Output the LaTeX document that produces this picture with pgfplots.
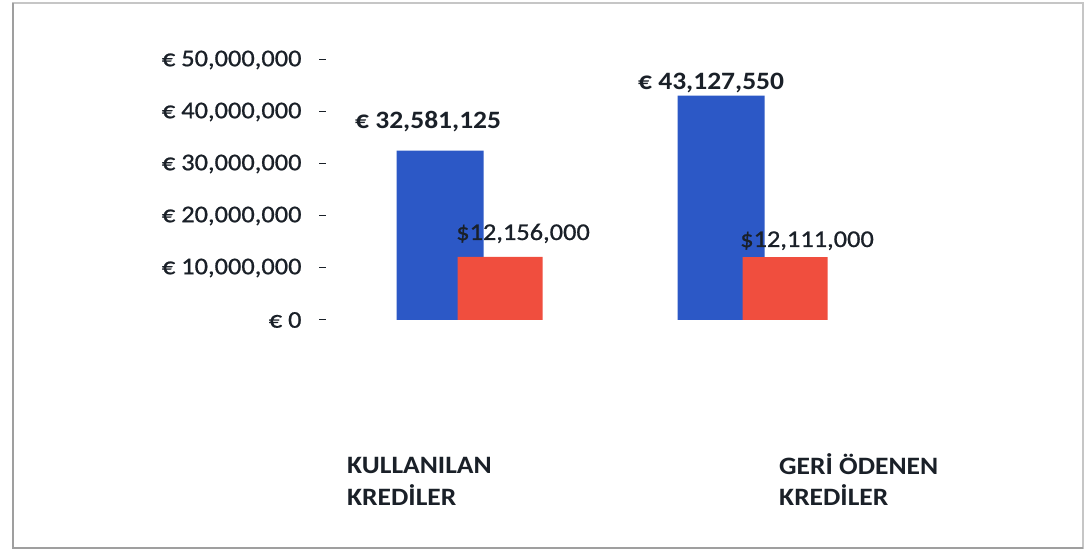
\documentclass[border=0pt]{standalone}
\usepackage{fontspec}
\setmainfont{Carlito}[FakeStretch=1.1]
\newfontfamily\medfont{Carlito}[FakeStretch=1.1, FakeBold=0.8]
\usepackage{pgfplots}
\pgfplotsset{compat=1.18}
\usepackage{pgfplotstable}
\definecolor{barblue}{RGB}{44,88,198}
\definecolor{barred}{RGB}{240,78,62}
\definecolor{txt}{RGB}{26,32,40}

\pgfplotstableread{
x y
440 32581125
721 43127550
}\bluedata
\pgfplotstableread{
x y
500 12156000
785 12111000
}\reddata

% pixel row p  ->  value (320-p)/5.2 million
\newcommand{\pv}[1]{\fpeval{(320-#1)/5.2*1000000}}

\begin{document}
\begin{tikzpicture}
\useasboundingbox (0,0) rectangle (1088bp,551bp);
\fill[white] (0,0) rectangle (1088bp,551bp);
\draw[gray!45, line width=1.2bp] (13bp,3bp) rectangle (1083bp,548bp);
\draw[gray!75, line width=1.6bp] (13bp,548bp) -- (13bp,3bp) -- (1083bp,3bp);
\begin{axis}[
  at={(326bp,0bp)}, anchor=south west,
  scale only axis, width=762bp, height=551bp,
  xmin=326, xmax=1088,
  ymin=-44423077, ymax=61538462,
  clip=false,
  axis lines=left, axis line style={draw=none},
  xtick=\empty,
  ytick={0,10000000,20000000,30000000,40000000,50000000},
  yticklabels={{€ 0},{€ 10,000,000},{€ 20,000,000},{€ 30,000,000},{€ 40,000,000},{€ 50,000,000}},
  scaled y ticks=false,
  tick align=outside, major tick length=7bp,
  ytick style={draw=txt, line width=1bp},
  yticklabel style={font=\medfont\fontsize{24bp}{28bp}\selectfont, text=txt, anchor=east, xshift=-14bp},
]
\addplot[ybar, bar width=87, bar shift=0pt, fill=barblue, draw=none] table[x=x,y=y] {\bluedata};
\addplot[ybar, bar width=85, bar shift=0pt, fill=barred, draw=none] table[x=x,y=y] {\reddata};

\node[anchor=base west, inner sep=0, text=txt, font=\bfseries\fontsize{25bp}{30bp}\selectfont] at (axis cs:355,\pv{129}) {€ 32,581,125};
\node[anchor=base west, inner sep=0, text=txt, font=\bfseries\fontsize{25bp}{30bp}\selectfont] at (axis cs:638,\pv{90}) {€ 43,127,550};
\node[anchor=base west, inner sep=0, text=txt, font=\medfont\fontsize{24bp}{28bp}\selectfont] at (axis cs:456,\pv{240}) {\$12,156,000};
\node[anchor=base west, inner sep=0, text=txt, font=\medfont\fontsize{24bp}{28bp}\selectfont] at (axis cs:740,\pv{247}) {\$12,111,000};

\node[anchor=base west, inner sep=0, text=txt, font=\bfseries\fontsize{25bp}{28bp}\selectfont] at (axis cs:347,\pv{474}) {KULLANILAN};
\node[anchor=base west, inner sep=0, text=txt, font=\bfseries\fontsize{25bp}{28bp}\selectfont] at (axis cs:347,\pv{506}) {KREDİLER};
\node[anchor=base west, inner sep=0, text=txt, font=\bfseries\fontsize{25bp}{28bp}\selectfont] at (axis cs:779,\pv{475}) {GERİ ÖDENEN};
\node[anchor=base west, inner sep=0, text=txt, font=\bfseries\fontsize{25bp}{28bp}\selectfont] at (axis cs:779,\pv{506}) {KREDİLER};
\end{axis}
\end{tikzpicture}
\end{document}
